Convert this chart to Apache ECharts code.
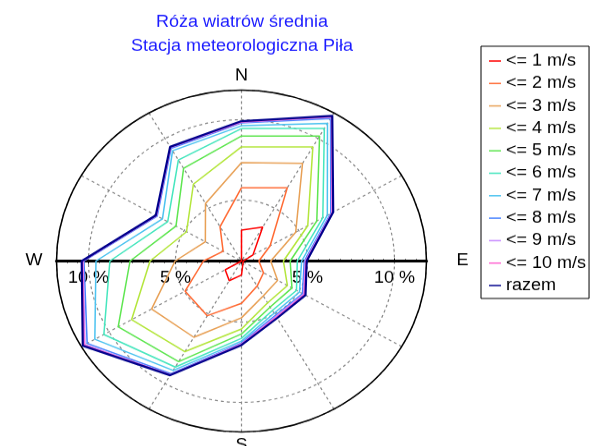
<!DOCTYPE html>
<html>
<head>
<meta charset="utf-8">
<script src="https://cdn.jsdelivr.net/npm/echarts@6/dist/echarts.min.js"></script>
<style>
  html, body { margin: 0; padding: 0; background: #fff; overflow: hidden; }
  /* oryginalna tarcza jest lekko spłaszczona (elipsa), stąd scaleY */
  #chart { width: 591px; height: 483px; transform: scaleY(0.924); transform-origin: 0 0; }
</style>
</head>
<body>
<div id="chart"></div>
<script>
// kierunki wiatru co 30 stopni, od N zgodnie z ruchem wskazówek zegara
const directions = [0, 30, 60, 90, 120, 150, 180, 210, 240, 270, 300, 330];
const compassLabels = { 0: "N", 90: "E", 180: "S", 270: "W" };

const classNames = ["<= 1 m/s", "<= 2 m/s", "<= 3 m/s", "<= 4 m/s", "<= 5 m/s",
  "<= 6 m/s", "<= 7 m/s", "<= 8 m/s", "<= 9 m/s", "<= 10 m/s", "razem"];
const classColors = ["#ff0000", "#ff6a33", "#e8a055", "#b4e63c", "#5ee650",
  "#46e6be", "#4cc3f0", "#4682ff", "#c88cff", "#ff64d2", "#00008c"];

// częstość skumulowana [%], kolejność jak w directions
const upTo1 = [3.13, 3.64, 1.96, 1.3, 1.2, 1.2, 2.07, 2.61, 2.28, 1.2, 1.2, 1.25];
const upTo2 = [5.76, 6.47, 3.1, 2.2, 2.66, 3.0, 3.83, 5.13, 4.95, 3.39, 2.42, 3.67];
const upTo3 = [7.32, 8.22, 4.8, 2.88, 3.6, 3.7, 4.73, 6.68, 7.17, 5.02, 3.6, 5.34];
const upTo4 = [8.31, 9.41, 5.6, 3.61, 4.25, 4.2, 5.43, 7.71, 8.5, 6.46, 4.85, 6.73];
const upTo5 = [8.98, 10.18, 6.2, 4.0, 4.55, 4.5, 5.74, 8.43, 9.39, 7.61, 5.55, 7.86];
const upTo6 = [9.45, 10.73, 6.6, 4.41, 4.85, 4.75, 6.01, 8.82, 10.34, 8.77, 6.1, 8.46];
const upTo7 = [9.62, 11.09, 6.9, 4.66, 5.05, 4.95, 6.18, 9.06, 10.94, 9.57, 6.45, 9.13];
const upTo8 = [9.8, 11.45, 7.13, 4.81, 5.25, 5.1, 6.3, 9.3, 11.45, 10.26, 6.8, 9.3];
const upTo9 = [9.84, 11.55, 7.2, 4.87, 5.33, 5.18, 6.35, 9.36, 11.6, 10.31, 6.84, 9.36];
const upTo10 = [9.86, 11.58, 7.23, 4.9, 5.37, 5.22, 6.38, 9.38, 11.65, 10.34, 6.86, 9.38];
const total = [9.91, 11.64, 7.29, 4.95, 5.45, 5.3, 6.43, 9.41, 11.74, 10.39, 6.89, 9.41];

const allValues = [upTo1, upTo2, upTo3, upTo4, upTo5, upTo6, upTo7, upTo8, upTo9, upTo10, total];

// zakres osi promienia: środek = cisza (ok. 1.2 %)
const rMin = 1.2;
const rMax = 11.84;

const center = [241.5, 282.5];
const radius = 185;
const font = "Liberation Sans, Arial, sans-serif";

// zamknięty wielokąt: ostatni punkt = pierwszy kierunek powtórzony na 360°
function toPolar(values) {
  const pts = directions.map((d, i) => [values[i], d]);
  pts.push([values[0], 360]);
  return pts;
}

const series = allValues.map((vals, i) => ({
  name: classNames[i],
  type: "line",
  coordinateSystem: "polar",
  polarIndex: 0,
  symbol: "none",
  data: toPolar(vals),
  lineStyle: { color: classColors[i], width: i === 10 ? 2.2 : 1.5 },
  itemStyle: { color: classColors[i] },
}));

// oś promienia rysowana poziomo w obie strony (E i W)
function sideRadiusAxis(idx, labelMargin) {
  return {
    polarIndex: idx,
    type: "value",
    min: rMin,
    max: rMax,
    splitNumber: 2,
    axisLine: { lineStyle: { color: "#000", width: 3 } },
    axisTick: { show: true, length: 3, lineStyle: { color: "#000" } },
    minorTick: { show: true, splitNumber: 8, length: 2, lineStyle: { color: "#000" } },
    axisLabel: {
      formatter: "{value} %",
      showMinLabel: false,
      showMaxLabel: false,
      color: "#000",
      fontSize: 18,
      fontFamily: font,
      margin: labelMargin,
    },
    splitLine: { show: false },
  };
}

const option = {
  animation: false,
  backgroundColor: "#fff",
  textStyle: { fontFamily: font },
  title: {
    text: "Róża wiatrów średnia\nStacja meteorologiczna Piła",
    left: 242,
    top: 11,
    textAlign: "center",
    padding: 0,
    textStyle: { color: "#1a1aff", fontSize: 18, fontWeight: "normal", lineHeight: 26, fontFamily: font },
  },
  legend: {
    orient: "vertical",
    left: 481,
    top: 50,
    padding: [7, 3, 5, 8],
    borderColor: "#000",
    borderWidth: 1,
    icon: "rect",
    itemWidth: 12,
    itemHeight: 1.5,
    itemGap: 6.3,
    data: classNames,
    textStyle: { color: "#000", fontSize: 18, lineHeight: 18, fontFamily: font },
  },
  polar: [
    { center: center, radius: radius },
    { center: center, radius: radius },
    { center: center, radius: radius },
  ],
  angleAxis: [
    {
      polarIndex: 0,
      type: "value",
      min: 0,
      max: 360,
      interval: 30,
      startAngle: 90,
      clockwise: true,
      axisLine: { lineStyle: { color: "#000", width: 1.5 } },
      axisTick: { show: false },
      axisLabel: {
        color: "#000",
        fontSize: 18,
        fontFamily: font,
        margin: 6,
        formatter: (v) => {
          if (v === 90) return "{e|E}";
          if (v === 270) return "{w|W}";
          return compassLabels[v] || "";
        },
        rich: {
          e: { fontSize: 18, fontFamily: font, color: "#000", padding: [0, 0, 0, 24] },
          w: { fontSize: 18, fontFamily: font, color: "#000", padding: [0, 8, 0, 0] },
        },
      },
      splitLine: { lineStyle: { color: "#888", width: 1.2, type: [3, 3] } },
    },
    { polarIndex: 1, type: "value", min: 0, max: 360, startAngle: 0, show: false },
    { polarIndex: 2, type: "value", min: 0, max: 360, startAngle: 180, show: false },
  ],
  radiusAxis: [
    {
      polarIndex: 0,
      type: "value",
      min: rMin,
      max: rMax,
      splitNumber: 2,
      axisLine: { show: false },
      axisTick: { show: false },
      axisLabel: { show: false },
      splitLine: { lineStyle: { color: "#888", width: 1.2, type: [3, 3] } },
    },
    sideRadiusAxis(1, -28),
    sideRadiusAxis(2, 10),
  ],
  series: series,
};

const chart = echarts.init(document.getElementById("chart"));
chart.setOption(option);
</script>
</body>
</html>
